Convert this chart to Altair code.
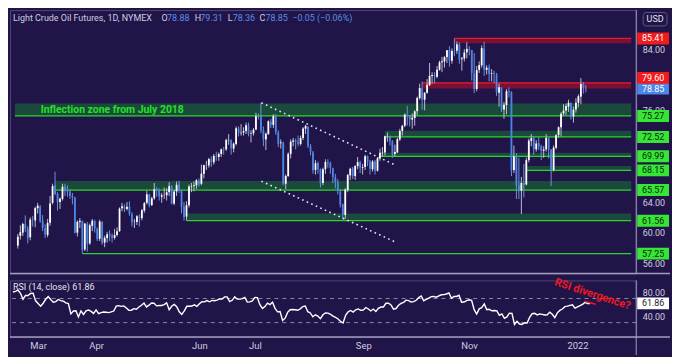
import altair as alt
import pandas as pd
import numpy as np

# ---------------- data ----------------
holidays = ["2021-02-15", "2021-04-02", "2021-05-31", "2021-07-05",
            "2021-09-06", "2021-11-25", "2021-12-24"]

opens = [
    58.30, 59.60, 60.00, 61.10, 60.50, 59.40, 61.70, 61.60, 63.20, 63.40,
    61.60, 60.60, 59.70, 61.30, 63.90, 66.20, 65.10, 64.00, 64.40, 66.00,
    65.60, 65.40, 64.80, 64.60, 60.00, 61.40, 61.50, 57.80, 61.10, 58.60,
    60.90, 61.50, 60.50, 59.20, 61.40, 58.70, 59.30, 59.80, 59.60, 59.30,
    59.70, 60.20, 63.20, 63.40, 63.10, 63.40, 62.40, 61.40, 61.40, 62.10,
    61.90, 62.90, 63.90, 65.00, 63.60, 64.50, 65.70, 65.60, 64.70, 64.90,
    64.90, 65.30, 66.10, 63.80, 65.40, 66.30, 65.50, 63.40, 62.10, 63.60,
    66.00, 66.10, 66.20, 66.80, 66.40, 67.70, 68.80, 68.80, 69.60, 69.20,
    70.00, 69.90, 70.30, 70.90, 70.90, 72.10, 72.10, 71.00, 71.60, 73.60,
    73.00, 73.10, 73.30, 74.00, 72.90, 73.00, 73.50, 75.20, 75.20, 73.40,
    72.20, 72.90, 74.50, 74.10, 75.20, 73.10, 71.70, 71.80, 66.40, 67.40,
    70.30, 71.90, 72.10, 71.90, 71.60, 72.40, 73.60, 73.90, 71.30, 70.50,
    68.20, 69.10, 68.30, 66.50, 68.30, 69.20, 69.10, 68.40, 67.30, 66.60,
    65.40, 63.70, 62.30, 65.60, 67.50, 68.40, 67.40, 68.70, 69.20, 68.50,
    68.60, 70.00, 69.30, 68.30, 69.30, 68.10, 69.70, 70.40, 70.50, 72.60,
    72.60, 72.00, 70.30, 70.50, 72.20, 73.30, 74.00, 75.40, 75.30, 74.80,
    75.00, 75.90, 77.60, 78.90, 77.40, 78.30, 79.30, 80.50, 80.60, 80.40,
    81.30, 82.30, 82.40, 83.00, 83.90, 82.50, 83.80, 83.80, 84.60, 82.70,
    82.80, 83.60, 84.00, 83.90, 80.80, 78.80, 81.30, 81.90, 84.10, 81.30,
    81.60, 80.80, 80.90, 80.70, 78.30, 79.00, 76.10, 76.70, 78.50, 78.40,
    68.20, 70.00, 66.20, 65.50, 66.50, 66.30, 69.50, 72.00, 72.40, 70.90,
    71.70, 71.30, 70.70, 70.90, 72.40, 70.90, 68.20, 71.10, 72.80, 73.80,
    75.60, 76.00, 76.50, 77.00, 75.20, 76.10, 77.00, 77.80, 79.40, 78.88,
]
highs = [
    59.82, 60.95, 61.30, 62.26, 60.85, 62.00, 62.20, 63.40, 63.90, 63.60,
    62.30, 61.10, 61.80, 64.80, 66.40, 67.98, 65.30, 64.60, 66.40, 66.40,
    66.20, 65.60, 65.20, 64.70, 61.60, 61.90, 61.60, 61.30, 61.40, 61.20,
    61.80, 61.70, 60.70, 61.70, 61.50, 59.60, 60.10, 60.30, 59.90, 60.50,
    60.70, 63.30, 63.90, 63.70, 64.00, 64.10, 62.70, 61.80, 62.30, 62.40,
    63.10, 64.00, 65.50, 65.10, 64.70, 66.50, 66.00, 65.80, 65.20, 65.90,
    65.80, 66.60, 66.20, 65.60, 66.70, 66.80, 65.60, 64.00, 64.10, 66.30,
    66.50, 66.70, 67.00, 67.10, 68.90, 68.90, 69.40, 69.80, 70.00, 70.30,
    70.60, 70.50, 71.00, 71.20, 72.30, 72.90, 72.20, 71.80, 73.90, 73.90,
    74.20, 73.80, 74.40, 74.40, 73.40, 73.70, 75.70, 75.60, 76.98, 73.90,
    73.10, 74.70, 74.90, 75.50, 75.50, 73.40, 72.20, 71.90, 67.60, 70.50,
    72.20, 72.40, 72.30, 72.70, 72.70, 73.80, 74.10, 73.90, 71.60, 70.70,
    69.50, 69.30, 68.40, 68.50, 69.60, 69.60, 69.30, 68.50, 67.70, 67.00,
    65.70, 63.80, 65.80, 67.70, 68.50, 68.60, 68.80, 69.90, 69.40, 69.00,
    70.20, 70.10, 69.50, 69.50, 69.50, 69.90, 71.00, 71.20, 72.70, 73.10,
    72.70, 72.10, 71.50, 72.40, 73.60, 74.10, 75.60, 76.60, 75.40, 75.60,
    76.00, 77.80, 79.50, 79.78, 78.40, 80.10, 82.20, 81.00, 81.00, 81.80,
    82.50, 83.00, 83.10, 83.90, 84.40, 84.10, 85.41, 85.00, 84.90, 83.00,
    84.00, 84.90, 84.40, 83.90, 83.50, 81.80, 82.40, 84.50, 84.97, 81.90,
    82.00, 81.40, 81.20, 80.90, 79.50, 79.00, 77.10, 78.80, 79.00, 78.50,
    71.40, 70.40, 69.80, 67.30, 69.00, 69.80, 72.30, 72.90, 72.60, 72.10,
    72.50, 71.50, 71.30, 72.90, 72.50, 70.90, 71.40, 72.90, 73.90, 75.80,
    76.80, 76.90, 77.40, 77.00, 76.50, 77.60, 78.10, 80.24, 79.70, 79.31,
]
lows = [
    57.91, 59.10, 59.55, 60.10, 58.60, 59.00, 60.80, 60.70, 62.50, 61.30,
    60.20, 59.30, 59.40, 60.90, 63.70, 64.90, 62.90, 63.10, 64.20, 64.80,
    64.70, 64.40, 63.70, 59.90, 59.50, 60.60, 57.25, 57.60, 57.50, 58.40,
    60.20, 60.00, 58.90, 58.90, 58.40, 58.10, 58.70, 58.90, 58.70, 59.10,
    59.50, 60.10, 62.80, 62.70, 62.90, 62.20, 60.80, 60.60, 61.00, 60.80,
    61.60, 62.60, 63.70, 63.30, 63.50, 64.30, 64.70, 64.20, 63.90, 64.40,
    64.20, 64.80, 63.70, 63.60, 64.80, 65.20, 62.50, 61.56, 61.60, 63.30,
    65.30, 65.40, 65.70, 66.00, 66.20, 67.10, 68.20, 68.50, 68.60, 68.90,
    69.40, 69.40, 69.90, 70.20, 70.70, 71.50, 70.20, 70.50, 71.40, 72.60,
    72.70, 72.70, 72.90, 72.60, 71.80, 72.70, 73.40, 74.80, 73.00, 71.30,
    70.80, 72.80, 73.70, 73.70, 72.80, 71.20, 71.00, 66.20, 65.70, 67.30,
    69.70, 71.30, 70.90, 71.30, 71.40, 72.10, 72.90, 71.10, 70.10, 67.70,
    67.60, 67.70, 65.90, 66.20, 67.70, 68.50, 67.70, 66.50, 65.80, 65.00,
    63.30, 61.74, 61.80, 65.30, 66.90, 67.00, 66.90, 68.30, 67.80, 67.60,
    68.20, 68.70, 67.60, 68.00, 67.60, 68.00, 69.40, 70.00, 70.10, 71.90,
    71.40, 69.80, 70.00, 70.40, 72.00, 72.70, 73.80, 74.00, 73.90, 73.60,
    74.00, 75.40, 77.40, 76.10, 76.00, 78.20, 79.20, 79.50, 79.50, 80.20,
    81.20, 81.00, 81.60, 82.20, 81.70, 82.10, 83.10, 83.40, 82.10, 81.20,
    82.40, 82.80, 83.20, 79.90, 78.25, 78.50, 80.90, 81.60, 80.50, 80.70,
    79.80, 79.80, 79.60, 77.90, 76.50, 75.80, 74.90, 75.50, 77.70, 67.40,
    67.80, 64.40, 64.40, 62.43, 64.60, 66.20, 69.20, 71.30, 70.20, 70.60,
    70.80, 69.50, 69.80, 70.60, 69.70, 66.10, 68.00, 70.90, 72.40, 72.60,
    75.30, 75.40, 75.80, 74.80, 74.40, 75.70, 76.40, 76.80, 78.20, 78.36,
]
closes = [
    59.47, 60.05, 61.14, 60.52, 59.24, 61.70, 61.67, 63.22, 63.53, 61.50,
    60.64, 59.75, 61.28, 63.83, 66.09, 65.05, 64.01, 64.44, 66.02, 65.61,
    65.39, 64.80, 64.60, 60.00, 61.42, 61.55, 57.76, 61.18, 58.56, 60.97,
    61.56, 60.55, 59.16, 61.45, 58.65, 59.33, 59.77, 59.60, 59.32, 59.70,
    60.18, 63.15, 63.46, 63.13, 63.38, 62.44, 61.35, 61.43, 62.14, 61.91,
    62.94, 63.86, 65.01, 63.58, 64.49, 65.69, 65.63, 64.71, 64.90, 64.92,
    65.28, 66.08, 63.82, 65.37, 66.27, 65.49, 63.36, 62.05, 63.58, 66.05,
    66.07, 66.21, 66.85, 66.32, 67.72, 68.83, 68.81, 69.62, 69.23, 70.05,
    69.96, 70.29, 70.91, 70.88, 72.12, 72.15, 71.04, 71.64, 73.66, 73.06,
    73.08, 73.30, 74.05, 72.91, 72.98, 73.47, 75.23, 75.16, 73.37, 72.20,
    72.94, 74.56, 74.10, 75.25, 73.13, 71.65, 71.81, 66.42, 67.42, 70.30,
    71.91, 72.07, 71.91, 71.65, 72.39, 73.62, 73.95, 71.26, 70.56, 68.15,
    69.09, 68.28, 66.48, 68.29, 69.25, 69.09, 68.44, 67.29, 66.59, 65.46,
    63.69, 62.32, 65.64, 67.54, 68.36, 67.42, 68.74, 69.21, 68.50, 68.59,
    69.99, 69.29, 68.35, 69.30, 68.14, 69.72, 70.45, 70.46, 72.61, 72.61,
    71.97, 70.29, 70.56, 72.23, 73.30, 73.98, 75.45, 75.29, 74.83, 75.03,
    75.88, 77.62, 78.93, 77.43, 78.30, 79.35, 80.52, 80.64, 80.44, 81.31,
    82.28, 82.44, 82.96, 83.87, 82.50, 83.76, 83.76, 84.65, 82.66, 82.81,
    83.57, 84.05, 83.91, 80.86, 78.81, 81.27, 81.93, 84.15, 81.34, 81.59,
    80.79, 80.88, 80.76, 78.36, 79.01, 76.10, 76.75, 78.50, 78.39, 68.15,
    69.95, 66.18, 65.57, 66.50, 66.26, 69.49, 72.05, 72.36, 70.94, 71.67,
    71.29, 70.73, 70.87, 72.38, 70.86, 68.23, 71.12, 72.76, 73.79, 75.57,
    75.98, 76.56, 76.99, 75.21, 76.08, 76.99, 77.85, 79.46, 78.90, 78.85,
]
# closes before the visible window, only used to warm up RSI(14)
warmup_closes = [
    44.55, 45.28, 45.64, 46.26, 45.76, 45.60, 45.52, 46.78, 46.57, 46.99,
    47.62, 47.82, 48.36, 49.10, 47.74, 47.02, 48.12, 48.23, 47.62, 48.00,
    48.40, 48.52, 47.62, 49.93, 50.63, 50.83, 52.24, 52.25, 53.21, 52.91,
    53.57, 52.36, 52.98, 53.31, 53.13, 52.27, 52.77, 52.61, 52.85, 52.34,
    52.20, 53.55, 54.76, 55.69, 56.23, 56.85, 57.97, 58.36, 58.68, 58.24,
]

month_starts = [(2021, 3), (2021, 4), (2021, 6), (2021, 7), (2021, 9), (2021, 11), (2022, 1)]
month_labels = ["Mar", "Apr", "Jun", "Jul", "Sep", "Nov", "2022"]
price_ticks = [56, 60, 64, 76, 84]   # the others are hidden behind the price tags
rsi_ticks = [40, 80]

# horizontal zones: start bar, top price, bottom price, kind
zone_start = [None, 148, 146, 205, 15, 68, 26, 176, 163]
zone_top = [76.90, 73.35, 70.47, 68.72, 66.75, 62.50, 57.25, 85.41, 79.60]
zone_bottom = [75.27, 72.52, 69.99, 68.15, 65.57, 61.56, 57.25, 84.78, 78.85]
zone_kind = ["g", "g", "g", "g", "g", "g", "g", "r", "r"]

# dotted channel lines (bar index, price)
dot_x1 = [98.2, 98.2]
dot_p1 = [77.00, 66.73]
dot_x2 = [152.2, 152.2]
dot_p2 = [68.84, 58.78]

# price tags on the right scale
tag_values = [85.41, 78.85, 75.27, 72.52, 69.99, 68.15, 65.57, 61.56, 57.25]
tag_kind = ["r", "b", "g", "g", "g", "g", "g", "g", "g"]
shifted_tag = 79.60
rsi_last = 61.86
div_x = [226.8, 231.2]
div_rsi = [65.5, 60.3]

# ---------------- layout / style ----------------
BG = "#201448"
FONT = "Roboto"
W, H1, H2, XAX, AXW = 630, 265, 57, 18, 34
X_MIN, X_MAX = -1.16, 247.3
Y_MIN, Y_MAX = 54.66, 89.13
R_MIN, R_MAX = 6, 100
SEP = "#a19dbf"
G_FILL, G_LINE = "#1b4a3c", "#2bd52b"
R_FILL, R_LINE = "#7a1036", "#e81b2b"
TAG_COL = {"r": "#f01c1c", "b": "#4c86e8", "g": "#35e635"}
TAG_TXT = {"r": "#ffffff", "b": "#ffffff", "g": "#0e1a0e"}
UP, DOWN = "#ffffff", "#4b86e6"
UP_W, DOWN_W = "#bdbad2", "#6f91d8"
LBL = "#cfcde0"
TAG_SHAPE = "M-1,-0.375L1,-0.375L1,0.375L-1,0.375Z"

dates = pd.bdate_range("2021-02-12", "2022-01-10")
dates = dates[~dates.isin(pd.to_datetime(holidays))]
n = min(len(dates), len(opens), len(highs), len(lows), len(closes))
df = pd.DataFrame({
    "i": np.arange(n), "open": opens[:n], "high": highs[:n],
    "low": lows[:n], "close": closes[:n],
})
up = df["close"] >= df["open"]
df["body"] = np.where(up, UP, DOWN)
df["wick"] = np.where(up, UP_W, DOWN_W)

allc = pd.Series(warmup_closes + closes[:n])
d = allc.diff()
ag = d.clip(lower=0).ewm(alpha=1 / 14, adjust=False).mean()
al = (-d.clip(upper=0)).ewm(alpha=1 / 14, adjust=False).mean()
rsi = (100 - 100 / (1 + ag / al)).iloc[len(warmup_closes):].to_numpy()
rdf = pd.DataFrame({"i": np.arange(n), "rsi": rsi})

month_idx = [int(np.argmax((dates.year == y) & (dates.month == m))) for y, m in month_starts]
label_expr = " : ".join(f"datum.value == {v} ? '{l}'" for v, l in zip(month_idx, month_labels)) + " : ''"

xs = alt.Scale(domain=[X_MIN, X_MAX], nice=False, zero=False)
ys = alt.Scale(domain=[Y_MIN, Y_MAX], nice=False, zero=False)
rs = alt.Scale(domain=[R_MIN, R_MAX], nice=False, zero=False)

yaxis = alt.Axis(orient="right", values=price_ticks, format=".2f",
                 title=None, grid=False, ticks=False, domain=False, labelColor=LBL,
                 labelFont=FONT, labelFontSize=9, labelPadding=6,
                 minExtent=AXW, maxExtent=AXW)
xaxis = alt.Axis(values=month_idx, labelExpr=label_expr, title=None, grid=False,
                 ticks=False, domain=False, labelColor=LBL, labelFont=FONT,
                 labelFontSize=9.5, labelPadding=4, labelFlush=False, labelOverlap=False,
                 minExtent=XAX, maxExtent=XAX)
raxis = alt.Axis(orient="right", values=rsi_ticks, format=".2f", title=None, grid=False,
                 ticks=False, domain=False, labelColor=LBL, labelFont=FONT,
                 labelFontSize=9, labelPadding=6, minExtent=AXW, maxExtent=AXW)


# same axis object on every layer so the layered axes merge
def X(f="i"):
    return alt.X(f"{f}:Q", scale=xs, axis=None)


def Y(f):
    return alt.Y(f"{f}:Q", scale=ys, axis=yaxis)


def RX(f="i"):
    return alt.X(f"{f}:Q", scale=xs, axis=xaxis)


def RY(f):
    return alt.Y(f"{f}:Q", scale=rs, axis=raxis)


one = pd.DataFrame({"k": [0]})


def txt(s, x, y, **kw):
    return alt.Chart(one).mark_text(text=s, **kw).encode(x=alt.value(x), y=alt.value(y))


zdf = pd.DataFrame({
    "start": [X_MIN if s is None else s for s in zone_start],
    "end": X_MAX, "top": zone_top, "bot": zone_bottom, "kind": zone_kind,
})
zdf["fill"] = np.where(zdf["kind"] == "g", G_FILL, R_FILL)
zdf["line"] = np.where(zdf["kind"] == "g", G_LINE, R_LINE)
zdf["lp"] = np.where(zdf["kind"] == "g", zdf["bot"], zdf["top"])

zones = alt.Chart(zdf[zdf["top"] != zdf["bot"]]).mark_rect().encode(
    x=X("start"), x2="end:Q", y=Y("top"), y2="bot:Q",
    color=alt.Color("fill:N", scale=None))
zlines = alt.Chart(zdf).mark_rule(strokeWidth=1.3).encode(
    x=X("start"), x2="end:Q", y=Y("lp"), color=alt.Color("line:N", scale=None))

wicks = alt.Chart(df).mark_rule(strokeWidth=1).encode(
    x=X(), y=Y("low"), y2="high:Q", color=alt.Color("wick:N", scale=None))
bodies = alt.Chart(df).mark_bar(width=1.8, minBandSize=1).encode(
    x=X(), y=Y("open"), y2="close:Q", color=alt.Color("body:N", scale=None))

ddf = pd.DataFrame({"x1": dot_x1, "p1": dot_p1, "x2": dot_x2, "p2": dot_p2})
dots = alt.Chart(ddf).mark_rule(color="#e8e6f4", strokeWidth=1.6, strokeDash=[1.6, 3.4]).encode(
    x=X("x1"), x2="x2:Q", y=Y("p1"), y2="p2:Q")

infl = alt.Chart(pd.DataFrame({"i": [9.2], "p": [76.1]})).mark_text(
    text="Inflection zone from July 2018", align="left", baseline="middle",
    font=FONT, fontSize=10.5, fontWeight="bold", color="#27e027").encode(x=X(), y=Y("p"))

HY = 8.5
hdr_kw = dict(align="left", baseline="middle", font=FONT, fontSize=9)
NUM = "#5a8fe6"
header = [
    txt("Light Crude Oil Futures, 1D, NYMEX", 3, HY, color=LBL, **hdr_kw),
    txt("O", 152.5, HY, color=LBL, **hdr_kw), txt("78.88", 158, HY, color=NUM, **hdr_kw),
    txt("H", 186, HY, color=LBL, **hdr_kw), txt("79.31", 191.5, HY, color=NUM, **hdr_kw),
    txt("L", 219, HY, color=LBL, **hdr_kw), txt("78.36", 224, HY, color=NUM, **hdr_kw),
    txt("C", 251, HY, color=LBL, **hdr_kw), txt("78.85", 257, HY, color=NUM, **hdr_kw),
    txt("\u22120.05 (\u22120.06%)", 284, HY, color=NUM, **hdr_kw),
]

usd_box = alt.Chart(one).mark_rect(fill=BG, stroke="#5d5980", strokeWidth=1, cornerRadius=3).encode(
    x=alt.value(W + 7), x2=alt.value(W + 31), y=alt.value(2.5), y2=alt.value(16))
usd_txt = txt("USD", W + 19, 9.5, align="center", baseline="middle", font=FONT,
              fontSize=9, color="#e6e4f2")

tdf = pd.DataFrame({"p": tag_values, "kind": tag_kind})
tdf["bg"] = tdf["kind"].map(TAG_COL)
tdf["fg"] = tdf["kind"].map(TAG_TXT)
tdf["lab"] = tdf["p"].map(lambda v: f"{v:.2f}")
tag_box = alt.Chart(tdf).mark_point(shape=TAG_SHAPE, size=1024, filled=True, opacity=1,
                                    strokeWidth=0).encode(
    x=alt.value(W + 17), y=Y("p"), color=alt.Color("bg:N", scale=None))
tag_txt = alt.Chart(tdf).mark_text(align="center", baseline="middle", font=FONT,
                                   fontSize=9).encode(
    x=alt.value(W + 17), y=Y("p"), text="lab:N", color=alt.Color("fg:N", scale=None))
sdf = pd.DataFrame({"p": [shifted_tag], "lab": [f"{shifted_tag:.2f}"]})
stag_box = alt.Chart(sdf).mark_point(shape=TAG_SHAPE, size=1024, filled=True, opacity=1,
                                     strokeWidth=0, color=TAG_COL["r"], yOffset=-5).encode(
    x=alt.value(W + 17), y=Y("p"))
stag_txt = alt.Chart(sdf).mark_text(align="center", baseline="middle", font=FONT, fontSize=9,
                                    color="#ffffff", yOffset=-5).encode(
    x=alt.value(W + 17), y=Y("p"), text="lab:N")

sep_main = alt.Chart(one).mark_rule(color=SEP, strokeWidth=1.5).encode(
    x=alt.value(0), x2=alt.value(W + AXW), y=alt.value(H1))
vline_main = alt.Chart(one).mark_rule(color=SEP, strokeWidth=1).encode(
    x=alt.value(W), y=alt.value(0), y2=alt.value(H1))

main = alt.layer(
    zones, zlines, wicks, bodies, dots, infl, *header, usd_box, usd_txt,
    tag_box, tag_txt, stag_box, stag_txt, sep_main, vline_main,
).properties(width=W, height=H1)

# ---------------- RSI pane ----------------
levels = alt.Chart(pd.DataFrame({"lv": [70, 30]})).mark_rule(
    color="#8a87a8", strokeWidth=1, strokeDash=[4, 4]).encode(y=RY("lv"))
rsi_line = alt.Chart(rdf).mark_line(color="#ffffff", strokeWidth=1.4).encode(
    x=RX(), y=RY("rsi"))
div_line = alt.Chart(pd.DataFrame({"i": div_x, "rsi": div_rsi})).mark_line(
    color="#f01c1c", strokeWidth=1.5).encode(x=RX(), y=RY("rsi"))
rtag = pd.DataFrame({"v": [rsi_last], "lab": [f"{rsi_last:.2f}"]})
rsi_tag = alt.Chart(rtag).mark_point(
    shape=TAG_SHAPE, size=1024, filled=True, opacity=1, strokeWidth=0, color="#ffffff").encode(
    x=alt.value(W + 17), y=RY("v"))
rsi_tag_t = alt.Chart(rtag).mark_text(
    align="center", baseline="middle", font=FONT, fontSize=9, color="#1a1a2a").encode(
    x=alt.value(W + 17), y=RY("v"), text="lab:N")
rsi_title = txt(f"RSI (14, close)  {rsi_last:.2f}", 3, 7, align="left", baseline="middle",
                font=FONT, fontSize=9, color="#e6e4f2")
div_txt = txt("RSI divergence?", 586, 14, align="center", baseline="middle", angle=18,
              font=FONT, fontSize=11, fontWeight="bold", color="#ee1a22")
sep_rsi = alt.Chart(one).mark_rule(color=SEP, strokeWidth=1.5).encode(
    x=alt.value(0), x2=alt.value(W + AXW), y=alt.value(H2))
vline_rsi = alt.Chart(one).mark_rule(color=SEP, strokeWidth=1).encode(
    x=alt.value(W), y=alt.value(0), y2=alt.value(H2 + XAX))

rsi_pane = alt.layer(
    levels, rsi_line, div_line, rsi_tag, rsi_tag_t, rsi_title, div_txt, sep_rsi, vline_rsi,
).properties(width=W, height=H2)

chart = alt.vconcat(main, rsi_pane, spacing=0).properties(
    padding={"left": 0, "top": 0, "right": 0, "bottom": 0}
).configure(background=BG).configure_view(stroke="#4d4775", strokeWidth=1)

chart.save("out.html", embed_options={"renderer": "svg", "actions": False})
